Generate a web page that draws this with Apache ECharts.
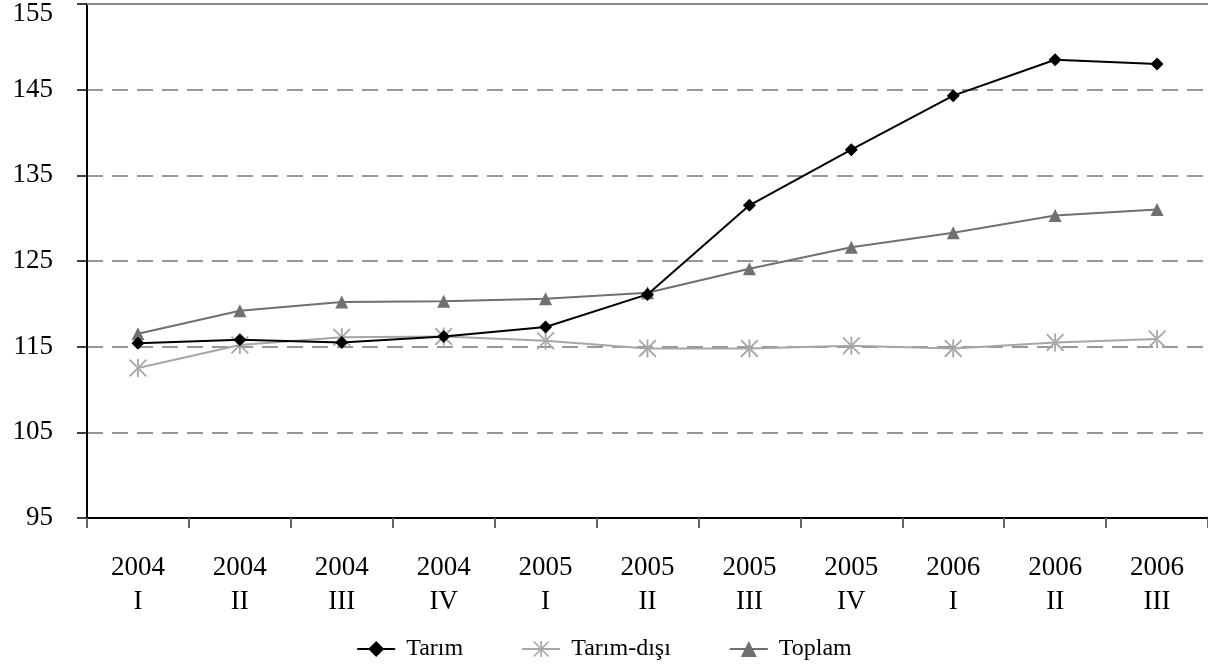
<!DOCTYPE html>
<html>
<head>
<meta charset="utf-8">
<script src="https://cdn.jsdelivr.net/npm/echarts@6/dist/echarts.min.js"></script>
<style>
  html, body { margin: 0; padding: 0; background: #fff; }
  #chart { width: 1208px; height: 667px; }
</style>
</head>
<body>
<div id="chart"></div>
<script>
const categories = ['2004\nI', '2004\nII', '2004\nIII', '2004\nIV', '2005\nI', '2005\nII',
  '2005\nIII', '2005\nIV', '2006\nI', '2006\nII', '2006\nIII']
const tarim = [115.4, 115.8, 115.5, 116.2, 117.3, 121.1, 131.5, 138.0, 144.3, 148.5, 148.0]
const tarimDisi = [112.5, 115.2, 116.1, 116.2, 115.7, 114.8, 114.8, 115.1, 114.8, 115.5, 115.9]
const toplam = [116.5, 119.2, 120.2, 120.3, 120.6, 121.3, 124.1, 126.6, 128.3, 130.3, 131.0]

const font = '"Liberation Serif", "DejaVu Serif", serif'
const asterisk = 'path://M9,0L11,0L11,20L9,20Z M1.4,0L0,1.4L18.6,20L20,18.6Z M18.6,0L20,1.4L1.4,20L0,18.6Z'

const chart = echarts.init(document.getElementById('chart'))
chart.setOption({
  backgroundColor: '#fff',
  animation: false,
  grid: { left: 87, right: 0, top: 4, bottom: 149, outerBoundsMode: 'none' },
  legend: {
    bottom: 1,
    left: 'center',
    itemWidth: 38,
    itemHeight: 20,
    itemGap: 58,
    textStyle: { fontFamily: font, fontSize: 24, color: '#000', padding: [0, 0, 0, 6] },
    data: ['Tarım', 'Tarım-dışı', 'Toplam']
  },
  xAxis: [
    {
      type: 'category',
      data: categories,
      boundaryGap: true,
      axisLine: { lineStyle: { color: '#000', width: 2 } },
      axisTick: { show: true, length: 10, lineStyle: { color: '#666', width: 2 } },
      axisLabel: {
        color: '#000',
        fontFamily: font,
        fontSize: 27,
        lineHeight: 34,
        margin: 33,
        interval: 0
      },
      splitLine: { show: false }
    },
    {
      type: 'category',
      position: 'top',
      data: categories,
      axisLine: { lineStyle: { color: '#888', width: 2 } },
      axisTick: { show: false },
      axisLabel: { show: false }
    }
  ],
  yAxis: {
    type: 'value',
    min: 95,
    max: 155,
    interval: 10,
    axisLine: { show: true, lineStyle: { color: '#000', width: 2 } },
    axisTick: { show: true, length: 10, lineStyle: { color: '#000', width: 1.5 } },
    axisLabel: {
      color: '#000',
      fontFamily: font,
      fontSize: 27,
      margin: 34,
      formatter: (v) => (v === 155 ? '{top|' + v + '}' : String(v)),
      rich: {
        top: { fontFamily: font, fontSize: 27, color: '#000', padding: [20, 0, 0, 0] }
      }
    },
    splitLine: {
      lineStyle: { color: '#777', width: 1.5, type: [16, 9] }
    }
  },
  series: [
    {
      name: 'Toplam',
      type: 'line',
      data: toplam,
      symbol: 'triangle',
      symbolSize: 13,
      color: '#707070',
      lineStyle: { color: '#707070', width: 2 },
      itemStyle: { color: '#707070' },
      z: 2
    },
    {
      name: 'Tarım-dışı',
      type: 'line',
      data: tarimDisi,
      symbol: asterisk,
      symbolSize: 18,
      color: '#a6a6a6',
      lineStyle: { color: '#a6a6a6', width: 2 },
      itemStyle: { color: '#a6a6a6' },
      z: 3
    },
    {
      name: 'Tarım',
      type: 'line',
      data: tarim,
      symbol: 'diamond',
      symbolSize: 13,
      color: '#000',
      lineStyle: { color: '#000', width: 2 },
      itemStyle: { color: '#000' },
      z: 4
    }
  ]
})
</script>
</body>
</html>
